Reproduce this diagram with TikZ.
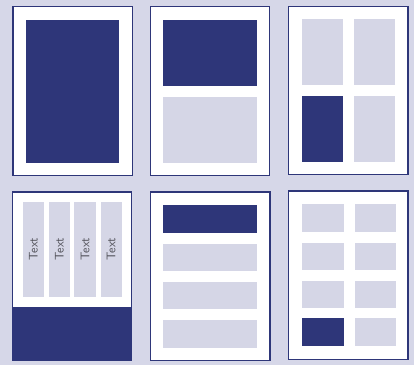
\documentclass[tikz,border=0pt]{standalone}
\usepackage{tikz}
\usetikzlibrary{positioning}
\usepackage[dvipsnames, svgnames]{xcolor}

\definecolor{pagebg}{RGB}{214,215,232}
\definecolor{navy}{RGB}{46,54,121}
\definecolor{cellgray}{RGB}{213,214,230}
\definecolor{labelgray}{RGB}{80,80,88}

\begin{document}
\begin{tikzpicture}[x=1pt, y=-1pt,
    page/.style={fill=white, draw=navy, line width=1.2pt},
    dark/.style={fill=navy},
    light/.style={fill=cellgray},
    coltext/.style={rotate=90, text=labelgray, font=\sffamily\fontsize{12.5}{14}\selectfont, inner sep=0pt}]
    % Background
    \fill[pagebg] (0,0) rectangle (414,365);

    % Layout 1: one full block
    \draw[page] (13,6.7) rectangle (132.3,175.3);
    \fill[dark] (26,20) rectangle (119.3,163);

    % Layout 2: two stacked blocks
    \draw[page] (150.3,6.7) rectangle (269.7,175.3);
    \fill[dark] (163.3,20) rectangle (257,86);
    \fill[light] (163.3,96.7) rectangle (257,163);

    % Layout 3: 2x2 grid
    \draw[page] (288.7,6.7) rectangle (408,174.7);
    \fill[light] (301.7,19) rectangle (343.3,85.3);
    \fill[light] (354,19) rectangle (395.3,85.3);
    \fill[dark] (301.7,96.3) rectangle (343.3,162);
    \fill[light] (354,96.3) rectangle (395.3,162);

    % Layout 4: four text columns over a footer
    \draw[page] (12.3,192) rectangle (131.7,360);
    \fill[dark] (12.3,306.7) rectangle (131.7,360);
    \fill[light] (22.7,202) rectangle (44.3,296.7);
    \fill[light] (48.7,202) rectangle (70,296.7);
    \fill[light] (74.3,202) rectangle (96,296.7);
    \fill[light] (100.7,202) rectangle (121.7,296.7);
    \node[coltext] (colA) at (33.5,249.3) {Text};
    \node[coltext] (colB) at (59.3,249.3) {Text};
    \node[coltext] (colC) at (85.2,249.3) {Text};
    \node[coltext] (colD) at (111.2,249.3) {Text};

    % Layout 5: four horizontal bars
    \draw[page] (150.3,192) rectangle (270,360.7);
    \fill[dark] (163.3,205) rectangle (257,233);
    \fill[light] (163.3,244) rectangle (257,270.7);
    \fill[light] (163.3,281.7) rectangle (257,308.7);
    \fill[light] (163.3,319.7) rectangle (257,347.7);

    % Layout 6: 2x4 grid
    \draw[page] (288.7,191) rectangle (408,359.7);
    \fill[light] (302.3,204) rectangle (344,232);
    \fill[light] (354.7,204) rectangle (396,232);
    \fill[light] (302.3,243) rectangle (344,270);
    \fill[light] (354.7,243) rectangle (396,270);
    \fill[light] (302.3,281) rectangle (344,307.7);
    \fill[light] (354.7,281) rectangle (396,307.7);
    \fill[dark] (302.3,318.3) rectangle (344,346.3);
    \fill[light] (354.7,318.3) rectangle (396,346.3);
\end{tikzpicture}
\end{document}
